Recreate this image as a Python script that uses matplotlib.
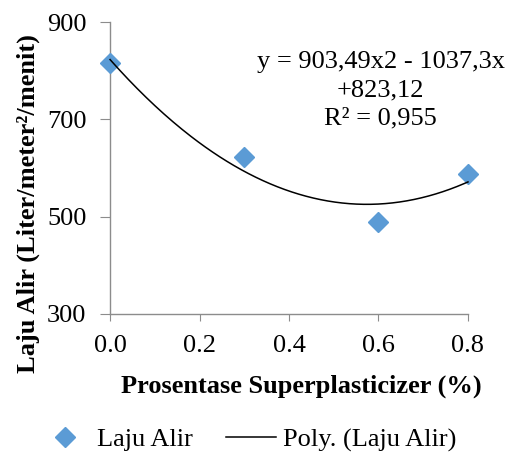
import numpy as np
import matplotlib
matplotlib.use("Agg")
import matplotlib.pyplot as plt

# data
persen = [0.0, 0.3, 0.6, 0.8]
laju_alir = [816, 623, 489, 588]
# trendline coefficients as printed on the chart
koef = [903.49, -1037.3, 823.12]
x_ticks = [0.0, 0.2, 0.4, 0.6, 0.8]
y_ticks = [300, 500, 700, 900]

plt.rcParams['font.family'] = ['Liberation Serif', 'DejaVu Serif']

fig = plt.figure(figsize=(5.12, 4.53), dpi=100)
ax = fig.add_axes([0.215, 0.307, 0.699, 0.644])

ax.plot(persen, laju_alir, linestyle='none', marker='D', markersize=10,
        color='#5B9BD5', label='Laju Alir', zorder=3, clip_on=False)
xs = np.linspace(0, 0.8, 200)
ax.plot(xs, np.polyval(koef, xs), color='black', linewidth=1.1,
        label='Poly. (Laju Alir)', zorder=4, clip_on=False)

ax.text(0.605, 760, 'y = 903,49x2 - 1037,3x\n+823,12\nR\u00b2 = 0,955',
        ha='center', va='center', fontsize=19, linespacing=1.38)

ax.set_xlim(0, 0.8)
ax.set_ylim(300, 900)
ax.set_xticks(x_ticks)
ax.set_xticklabels(['%.1f' % v for v in x_ticks])
ax.set_yticks(y_ticks)

for s in ['top', 'right']:
    ax.spines[s].set_visible(False)
for s in ['left', 'bottom']:
    ax.spines[s].set_color('#8c8c8c')
    ax.spines[s].set_linewidth(1)
ax.tick_params(axis='x', length=5, color='#8c8c8c', labelsize=19, pad=10)
ax.tick_params(axis='y', length=7, color='#8c8c8c', labelsize=19, pad=10)

ax.set_xlabel('Prosentase Superplasticizer (%)', fontsize=19,
              fontweight='bold')
ax.xaxis.set_label_coords(0.534, -0.247)
ax.set_ylabel('Laju Alir (Liter/meter\u00b2/menit)', fontsize=19,
              fontweight='bold')
ax.yaxis.set_label_coords(-0.229, 0.377)
ax.yaxis.label.set_va('center')
ax.xaxis.label.set_va('center')

fig.legend(loc='lower center', bbox_to_anchor=(0.485, -0.05), ncol=2,
           frameon=False, fontsize=19, handlelength=1.9, columnspacing=1.25,
           handletextpad=0.27)

fig.savefig('out.png', dpi=100)
